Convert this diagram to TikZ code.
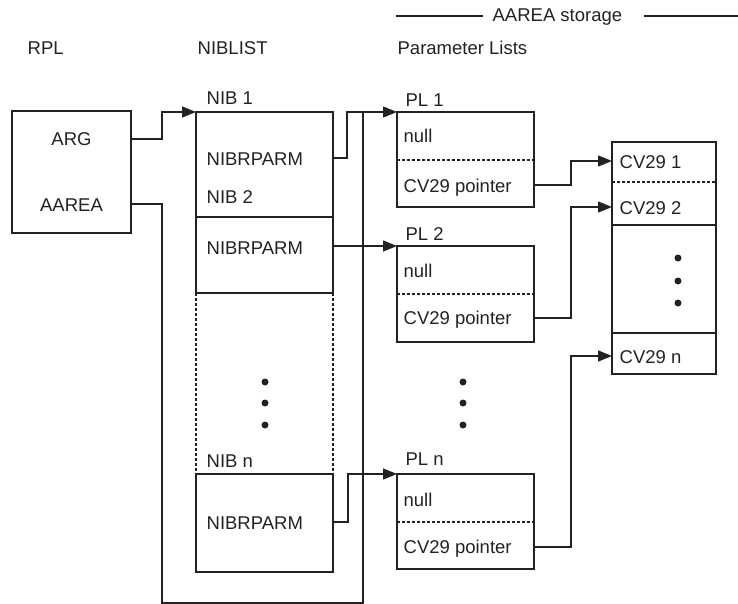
\documentclass[tikz,border=0pt]{standalone}
\usepackage{fontspec}
\setmainfont{Liberation Sans}
\usetikzlibrary{arrows.meta,calc}
\definecolor{ink}{HTML}{222222}
\begin{document}
\begin{tikzpicture}[x=1pt,y=-1pt,
  line width=1.3pt, draw=ink,
  box/.style={draw=ink, line width=1.3pt, anchor=north west, inner sep=0pt, outer sep=0pt},
  lbl/.style={anchor=base west, inner sep=0pt, text=ink, font=\fontsize{18.5}{22}\selectfont},
  clbl/.style={anchor=base, inner sep=0pt, text=ink, font=\fontsize{18.5}{22}\selectfont},
  conn/.style={draw=ink, line width=1.3pt},
  arr/.style={conn, -{Triangle[length=14pt,width=11pt]}},
  sep/.style={draw=ink, line width=1.1pt, dash pattern=on 2.5pt off 2.5pt},
  dot/.style={circle, fill=ink, inner sep=0pt, minimum size=7pt}]
\useasboundingbox (0,0) rectangle (738,604);

% headers
\node[lbl] (hrpl) at (27,55) {RPL};
\node[lbl] (hnib) at (197,55) {NIBLIST};
\node[lbl] (hpl) at (397,55) {Parameter Lists};
\node[lbl] (hstore) at (492,22) {AAREA storage};
\coordinate (sl1) at (396,16);
\coordinate (sl2) at (483,16);
\coordinate (sr1) at (644,16);
\coordinate (sr2) at (738,16);
\draw[conn] (sl1) -- (sl2);
\draw[conn] (sr1) -- (sr2);

% RPL
\node[box, minimum width=119pt, minimum height=122pt] (rpl) at (12,111) {};
\node[clbl] (arg) at (71.5,146) {ARG};
\node[clbl] (aarea) at (71.5,211) {AAREA};

% NIBLIST
\node[box, minimum width=137pt, minimum height=105pt] (nib1) at (196,112) {};
\node[box, minimum width=137pt, minimum height=76pt] (nib2) at (196,217) {};
\node[box, minimum width=137pt, minimum height=98pt] (nibn) at (196,474) {};
\draw[sep] (nib2.south west) -- (nibn.north west);
\draw[sep] (nib2.south east) -- (nibn.north east);
\node[lbl] (nib1l) at (206,105) {NIB 1};
\node[lbl] (nib1p) at (206,165) {NIBRPARM};
\node[lbl] (nib2l) at (206,203) {NIB 2};
\node[lbl] (nib2p) at (206,254) {NIBRPARM};
\node[lbl] (nibnl) at (206,467) {NIB n};
\node[lbl] (nibnp) at (206,529) {NIBRPARM};
\node[dot] (nd1) at (265,382) {};
\node[dot] (nd2) at (265,403) {};
\node[dot] (nd3) at (265,425) {};

% Parameter lists
\node[box, minimum width=137pt, minimum height=95pt] (pl1) at (397,112) {};
\node[box, minimum width=137pt, minimum height=96pt] (pl2) at (397,246) {};
\node[box, minimum width=137pt, minimum height=95pt] (pln) at (397,474) {};
\foreach \p in {pl1,pl2,pln}{
  \draw[sep] ($(\p.north west)+(0,48)$) -- ($(\p.north east)+(0,48)$);
}
\node[lbl] (pl1l) at (405,107) {PL 1};
\node[lbl] (pl1a) at (403,143) {null};
\node[lbl] (pl1b) at (403,192) {CV29 pointer};
\node[lbl] (pl2l) at (405,240) {PL 2};
\node[lbl] (pl2a) at (403,277) {null};
\node[lbl] (pl2b) at (403,324) {CV29 pointer};
\node[lbl] (plnl) at (405,465) {PL n};
\node[lbl] (plna) at (403,506) {null};
\node[lbl] (plnb) at (403,553) {CV29 pointer};
\node[dot] (pd1) at (463,382) {};
\node[dot] (pd2) at (463,403) {};
\node[dot] (pd3) at (463,425) {};

% CV29 storage
\node[box, minimum width=104pt, minimum height=232pt] (cv) at (612,142) {};
\draw[sep] ($(cv.north west)+(0,40)$) -- ($(cv.north east)+(0,40)$);
\draw[conn] ($(cv.north west)+(0,83)$) -- ($(cv.north east)+(0,83)$);
\draw[conn] ($(cv.north west)+(0,191)$) -- ($(cv.north east)+(0,191)$);
\node[lbl] (cv1) at (619,168) {CV29 1};
\node[lbl] (cv2) at (619,214) {CV29 2};
\node[lbl] (cvn) at (619,363) {CV29 n};
\node[dot] (cd1) at (678,258) {};
\node[dot] (cd2) at (678,281) {};
\node[dot] (cd3) at (678,303) {};

% connectors
\draw[arr] ($(rpl.north east)+(0,28)$) -- ++(31,0) |- (nib1.north west);
\draw[conn] ($(rpl.north east)+(0,93)$) -- ++(31,0) |- (363,603) -- (363,112);
\draw[arr] ($(nib1.north east)+(0,46)$) -- ++(14,0) |- (pl1.north west);
\draw[arr] (nib2.east |- pl2.north) -- (pl2.north west);
\draw[arr] ($(nibn.north east)+(0,48)$) -- ++(15,0) |- (pln.north west);

\draw[arr] ($(pl1.north east)+(0,73)$) -- ++(37,0) |- ($(cv.north west)+(0,19)$);
\draw[arr] ($(pl2.north east)+(0,72)$) -- ++(37,0) |- ($(cv.north west)+(0,65)$);
\draw[arr] ($(pln.north east)+(0,73)$) -- ++(37,0) |- ($(cv.north west)+(0,214)$);
\end{tikzpicture}
\end{document}
